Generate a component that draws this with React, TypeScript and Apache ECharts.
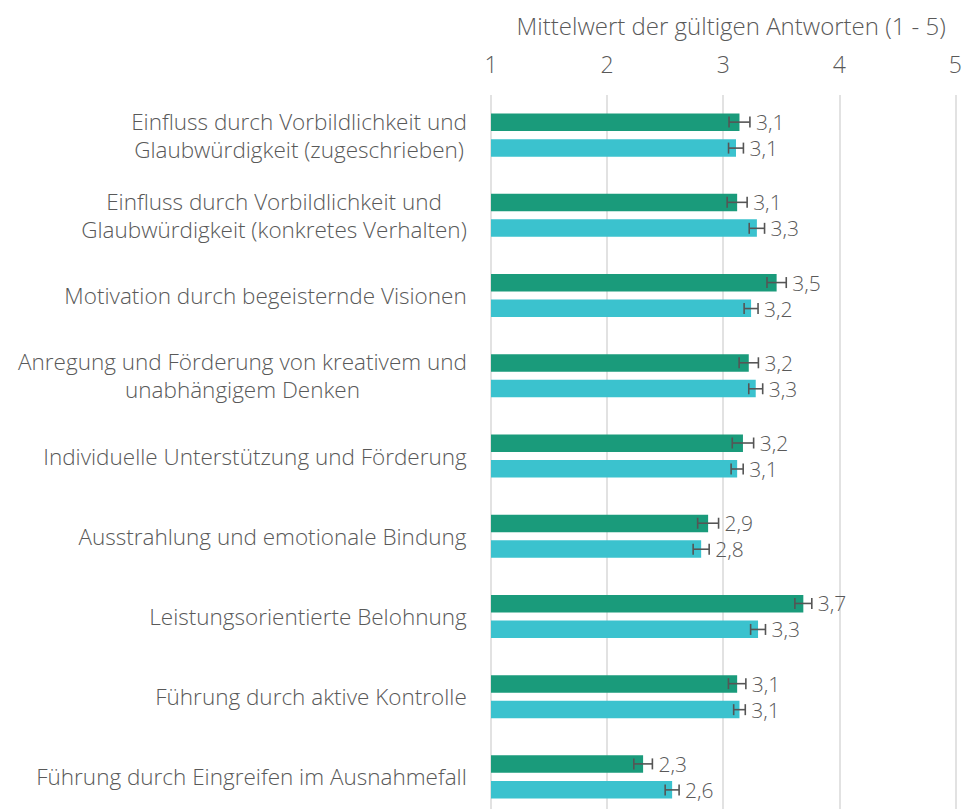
import React, { useEffect, useRef } from "react";
import * as echarts from "echarts";

const categories = [
  "Einfluss durch Vorbildlichkeit und\nGlaubwürdigkeit (zugeschrieben)",
  "Einfluss durch Vorbildlichkeit und\nGlaubwürdigkeit (konkretes Verhalten)",
  "Motivation durch begeisternde Visionen",
  "Anregung und Förderung von kreativem und\nunabhängigem Denken",
  "Individuelle Unterstützung und Förderung",
  "Ausstrahlung und emotionale Bindung",
  "Leistungsorientierte Belohnung",
  "Führung durch aktive Kontrolle",
  "Führung durch Eingreifen im Ausnahmefall",
];

const seriesA = [3.14, 3.12, 3.46, 3.22, 3.17, 2.87, 3.69, 3.12, 2.31];
const errorsA = [0.09, 0.086, 0.083, 0.083, 0.092, 0.09, 0.073, 0.075, 0.08];
const seriesB = [3.11, 3.29, 3.24, 3.28, 3.12, 2.81, 3.3, 3.14, 2.56];
const errorsB = [0.064, 0.066, 0.06, 0.06, 0.052, 0.069, 0.064, 0.05, 0.06];

const xTicks = [1, 2, 3, 4, 5];
const axisTitle = "Mittelwert der gültigen Antworten (1 - 5)";

const FONT = "'Open Sans', 'Noto Sans', sans-serif";
const FS = 23;
const CFS = 22.5;
const LFS = 21;
const FW = 300;
const TEXT = "#595959";
const GREEN = "#1a9b7b";
const CYAN = "#3bc2ce";

function measure(text: string): number {
  const ctx = document.createElement("canvas").getContext("2d");
  if (!ctx) return text.length * 10;
  ctx.font = `${FW} ${CFS}px 'Open Sans'`;
  return ctx.measureText(text).width;
}

export default function App() {
  const ref = useRef<HTMLDivElement>(null);
  useEffect(() => {
    if (!ref.current) return;
    const chart = echarts.init(ref.current, undefined, { renderer: "svg" });

    const rich: Record<string, any> = {};
    categories.forEach((c, i) => {
      const w = Math.max(...c.split("\n").map(measure));
      rich["c" + i] = {
        width: Math.ceil(w) + 2,
        align: "center",
        fontSize: CFS,
        fontWeight: FW,
        fontFamily: FONT,
        color: TEXT,
        lineHeight: 28,
      };
    });

    const errData = (vals: number[], errs: number[], sign: number) =>
      vals.map((v, i) => [v, i, errs[i], sign, v.toFixed(1).replace(".", ",")]);

    const renderErr = (params: any, api: any) => {
      const val = api.value(0);
      const cat = api.value(1);
      const err = api.value(2);
      const sign = api.value(3);
      const label = String(api.value(4));
      const band = api.size([0, 1])[1];
      const off = sign * band * 0.162;
      const c = api.coord([val, cat]);
      const lo = api.coord([val - err, cat]);
      const hi = api.coord([val + err, cat]);
      const y = c[1] + off;
      const h = 5.5;
      const ls = { stroke: "#555555", lineWidth: 1.6 };
      return {
        type: "group",
        children: [
          { type: "line", shape: { x1: lo[0], y1: y, x2: hi[0], y2: y }, style: ls },
          { type: "line", shape: { x1: lo[0], y1: y - h, x2: lo[0], y2: y + h }, style: ls },
          { type: "line", shape: { x1: hi[0], y1: y - h, x2: hi[0], y2: y + h }, style: ls },
          {
            type: "text",
            x: hi[0] + 6,
            y: y,
            style: {
              text: label,
              fill: TEXT,
              fontSize: LFS,
              fontWeight: FW,
              fontFamily: FONT,
              lineHeight: 20,
              align: "left",
              verticalAlign: "middle",
            },
          },
        ],
      };
    };

    chart.setOption({
      animation: false,
      grid: { left: 491, right: 8, top: 95, height: 722, containLabel: false },
      xAxis: {
        type: "value",
        position: "top",
        min: 1,
        max: 5,
        interval: 1,
        name: axisTitle,
        nameLocation: "middle",
        nameGap: 58,
        nameTextStyle: { fontSize: 24, fontWeight: FW, fontFamily: FONT, color: TEXT, padding: [0, 0, 0, 16] },
        axisLabel: {
          fontSize: FS,
          fontWeight: FW,
          fontFamily: FONT,
          color: TEXT,
          margin: 20,
          formatter: (v: number) => (xTicks.includes(v) ? String(v) : ""),
        },
        axisLine: { show: false },
        axisTick: { show: false },
        splitLine: { show: true, lineStyle: { color: "#d9d9d9", width: 1.5 } },
      },
      yAxis: {
        type: "category",
        data: categories,
        inverse: true,
        axisLine: { show: false },
        axisTick: { show: false },
        axisLabel: {
          margin: 23,
          formatter: (value: string, index: number) =>
            value
              .split("\n")
              .map((l) => `{c${index}|${l}}`)
              .join("\n"),
          rich,
        },
      },
      series: [
        {
          type: "bar",
          data: seriesA,
          barWidth: 17.5,
          barGap: "46%",
          itemStyle: { color: GREEN },
          z: 2,
        },
        {
          type: "bar",
          data: seriesB,
          barWidth: 17.5,
          itemStyle: { color: CYAN },
          z: 2,
        },
        {
          type: "custom",
          data: errData(seriesA, errorsA, -1),
          encode: { x: 0, y: 1 },
          renderItem: renderErr,
          z: 5,
        },
        {
          type: "custom",
          data: errData(seriesB, errorsB, 1),
          encode: { x: 0, y: 1 },
          renderItem: renderErr,
          z: 5,
        },
      ],
    });
    return () => chart.dispose();
  }, []);

  return (
    <div
      ref={ref}
      style={{ position: "fixed", left: 0, top: 0, width: 965, height: 820, background: "#fff" }}
    />
  );
}
